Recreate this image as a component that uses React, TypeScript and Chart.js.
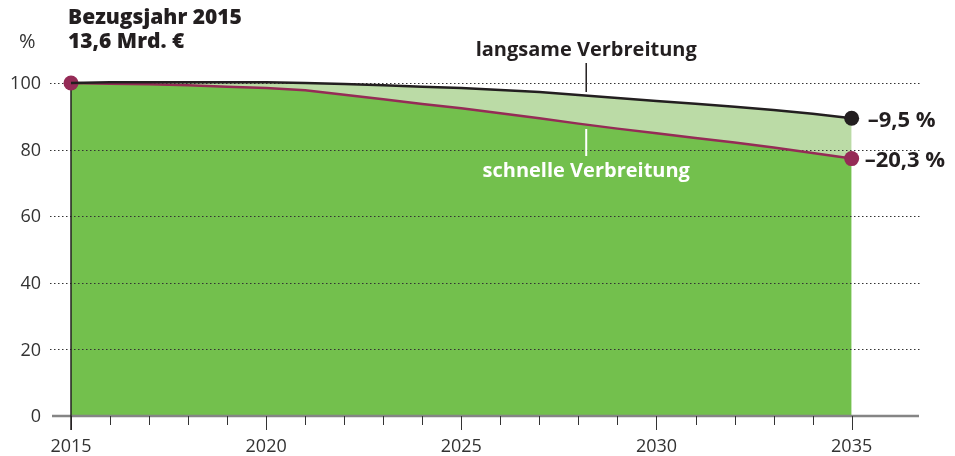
import React, { useEffect, useRef } from 'react';
import { Chart, registerables } from 'chart.js';

Chart.register(...registerables);

const years = [2015, 2016, 2017, 2018, 2019, 2020, 2021, 2022, 2023, 2024, 2025, 2026, 2027, 2028, 2029, 2030, 2031, 2032, 2033, 2034, 2035];
const slowValues = [100, 100.2, 100.2, 100.2, 100.2, 100.2, 100.0, 99.7, 99.3, 98.9, 98.5, 97.9, 97.3, 96.4, 95.5, 94.6, 93.8, 92.9, 91.9, 90.8, 89.4];
const fastValues = [100, 99.8, 99.6, 99.3, 98.9, 98.5, 97.8, 96.5, 95.1, 93.7, 92.4, 90.9, 89.4, 87.8, 86.3, 84.9, 83.5, 82.1, 80.6, 79.0, 77.3];
const yTicks = [0, 20, 40, 60, 80, 100];
const xTickLabels = [2015, 2020, 2025, 2030, 2035];
const titleLines = ['Bezugsjahr 2015', '13,6 Mrd. €'];
const unitLabel = '%';
const slowName = 'langsame Verbreitung';
const fastName = 'schnelle Verbreitung';
const slowChange = '–9,5 %';
const fastChange = '–20,3 %';

const BLACK = '#231f20';
const PURPLE = '#952b56';
const GREEN = '#73c04d';
const LIGHT = '#bbdba6';
const TEXT = '#333333';
const FONT = '"Open Sans", "DejaVu Sans", sans-serif';

const decor = {
  id: 'decor',
  beforeDatasetsDraw(chart: any) {
    const { ctx, scales } = chart;
    const x = scales.x;
    const y = scales.y;
    const x0 = x.getPixelForValue(2015);
    ctx.save();
    ctx.strokeStyle = '#333';
    ctx.lineWidth = 1;
    ctx.setLineDash([1.5, 2.5]);
    yTicks.forEach((v) => {
      if (v === 0) return;
      const py = Math.round(y.getPixelForValue(v)) + 0.5;
      ctx.beginPath();
      ctx.moveTo(50, py);
      ctx.lineTo(920, py);
      ctx.stroke();
    });
    ctx.setLineDash([]);
    const by = y.getPixelForValue(0);
    ctx.strokeStyle = '#858585';
    ctx.lineWidth = 2.5;
    ctx.beginPath();
    ctx.moveTo(52, by);
    ctx.lineTo(919, by);
    ctx.stroke();
    ctx.strokeStyle = '#333';
    ctx.lineWidth = 1;
    for (let yr = 2015; yr <= 2035; yr++) {
      const px = Math.round(x.getPixelForValue(yr)) + 0.5;
      const major = yr % 5 === 0;
      ctx.beginPath();
      ctx.moveTo(px, by);
      ctx.lineTo(px, by + (major ? 14 : 9));
      ctx.stroke();
    }
    ctx.strokeStyle = BLACK;
    ctx.lineWidth = 1.5;
    ctx.beginPath();
    ctx.moveTo(x0, y.getPixelForValue(100));
    ctx.lineTo(x0, by + 14);
    ctx.stroke();
    ctx.restore();
  },
  afterDatasetsDraw(chart: any) {
    const { ctx, scales } = chart;
    const x = scales.x;
    const y = scales.y;
    ctx.save();
    ctx.fillStyle = TEXT;
    ctx.font = `18px ${FONT}`;
    ctx.textAlign = 'right';
    ctx.textBaseline = 'middle';
    yTicks.forEach((v) => {
      ctx.fillText(String(v), 41, y.getPixelForValue(v) + 1);
    });
    ctx.textAlign = 'center';
    xTickLabels.forEach((v) => {
      ctx.fillText(String(v), x.getPixelForValue(v), 447);
    });
    ctx.textAlign = 'left';
    ctx.font = `20px ${FONT}`;
    ctx.fillText(unitLabel, 19, 42);
    ctx.fillStyle = BLACK;
    ctx.font = `800 21px ${FONT}`;
    ctx.fillText(titleLines[0], 68, 18);
    ctx.fillText(titleLines[1], 68, 42);
    const ax = x.getPixelForValue(2028.2);
    ctx.font = `bold 20px ${FONT}`;
    ctx.textAlign = 'center';
    ctx.fillText(slowName, ax, 50);
    ctx.fillStyle = '#ffffff';
    ctx.fillText(fastName, ax, 171);
    ctx.strokeStyle = BLACK;
    ctx.lineWidth = 1.5;
    ctx.beginPath();
    ctx.moveTo(ax, 63);
    ctx.lineTo(ax, 92);
    ctx.stroke();
    ctx.strokeStyle = '#ffffff';
    ctx.lineWidth = 2;
    ctx.beginPath();
    ctx.moveTo(ax, 129);
    ctx.lineTo(ax, 156);
    ctx.stroke();
    ctx.fillStyle = BLACK;
    ctx.font = `bold 22px ${FONT}`;
    ctx.textAlign = 'left';
    const ex = x.getPixelForValue(2035);
    ctx.fillText(slowChange, ex + 16, y.getPixelForValue(slowValues[slowValues.length - 1]) + 2);
    ctx.fillText(fastChange, ex + 13, y.getPixelForValue(fastValues[fastValues.length - 1]) + 2);
    ctx.restore();
  },
};

export default function App() {
  const ref = useRef<HTMLCanvasElement | null>(null);
  useEffect(() => {
    if (!ref.current) return;
    const last = years.length - 1;
    const chart = new Chart(ref.current, {
      type: 'line',
      data: {
        datasets: [
          {
            label: slowName,
            data: years.map((yr, i) => ({ x: yr, y: slowValues[i] })),
            borderColor: BLACK,
            borderWidth: 2.5,
            backgroundColor: LIGHT,
            fill: '+1',
            tension: 0,
            clip: false as any,
            pointRadius: years.map((_, i) => (i === last ? 7.5 : 0)),
            pointBackgroundColor: BLACK,
            pointBorderWidth: 0,
          },
          {
            label: fastName,
            data: years.map((yr, i) => ({ x: yr, y: fastValues[i] })),
            borderColor: PURPLE,
            borderWidth: 2.5,
            backgroundColor: GREEN,
            fill: 'origin',
            tension: 0,
            clip: false as any,
            pointRadius: years.map((_, i) => (i === 0 || i === last ? 7.5 : 0)),
            pointBackgroundColor: PURPLE,
            pointBorderWidth: 0,
          },
        ],
      },
      options: {
        responsive: false,
        animation: false,
        layout: { padding: { left: 71, right: 37, top: 83, bottom: 40 } },
        scales: {
          x: { type: 'linear', min: 2015, max: 2036.7, display: false },
          y: { min: 0, max: 100, display: false },
        },
        plugins: {
          legend: { display: false },
          tooltip: { enabled: false },
          filler: { drawTime: 'beforeDatasetsDraw' } as any,
        },
      },
      plugins: [decor],
    });
    return () => chart.destroy();
  }, []);
  return (
    <div style={{ position: 'absolute', left: 0, top: 0, width: 955, height: 456 }}>
      <canvas ref={ref} width={955} height={456} style={{ display: 'block' }} />
    </div>
  );
}
